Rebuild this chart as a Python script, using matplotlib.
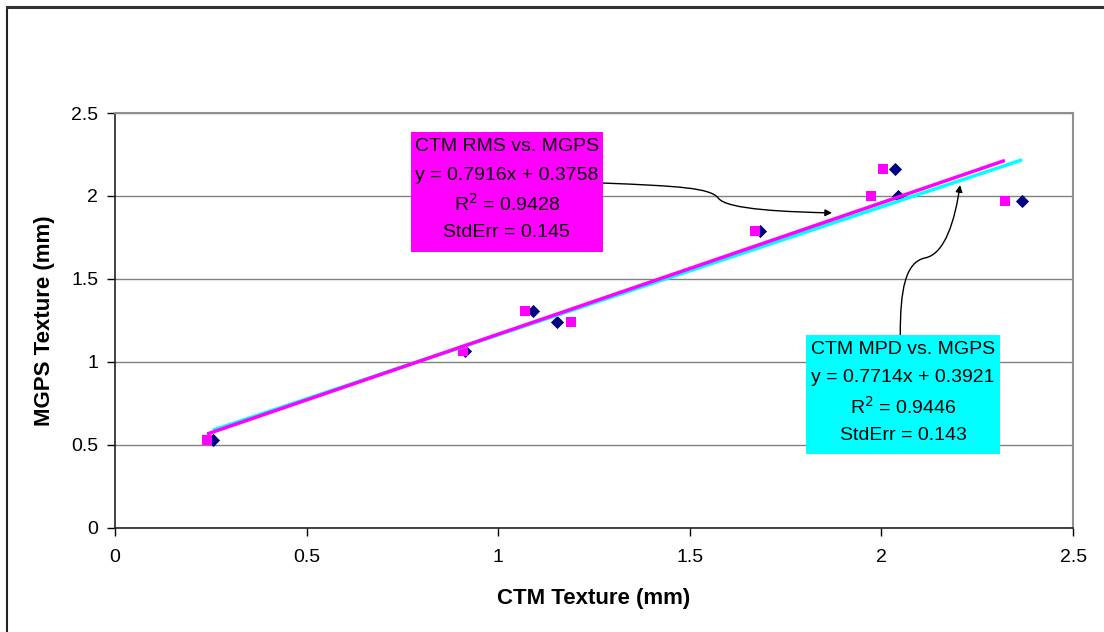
import matplotlib
matplotlib.use("Agg")
import matplotlib.pyplot as plt
import numpy as np
from matplotlib.path import Path
from matplotlib.patches import FancyArrowPatch, Rectangle
from matplotlib.lines import Line2D
from matplotlib.ticker import FuncFormatter

plt.rcParams['font.family'] = ['Liberation Sans', 'DejaVu Sans']

# measured texture values (mm)
mgps = [0.53, 1.065, 1.31, 1.24, 1.79, 2.16, 2.0, 1.97]
ctm_mpd = [0.255, 0.913, 1.090, 1.153, 1.684, 2.035, 2.044, 2.367]
ctm_rms = [0.240, 0.907, 1.069, 1.189, 1.671, 2.004, 1.973, 2.322]

# regression results shown in the boxes
mpd_fit = (0.7714, 0.3921, 0.9446, 0.143)
rms_fit = (0.7916, 0.3758, 0.9428, 0.145)

navy = '#000080'
pink = '#FF00FF'
cyan = '#00FFFF'

fig = plt.figure(figsize=(11.04, 6.32), dpi=100)
ax = fig.add_axes([0.1042, 0.1646, 0.8678, 0.6566])

# frame lines of the chart area (left and top only)
fig.add_artist(Line2D([0.006, 0.006], [0.0, 0.989], color='#222222', lw=1.5, transform=fig.transFigure))
fig.add_artist(Line2D([0.006, 1.0], [0.989, 0.989], color='#333333', lw=2.2, transform=fig.transFigure))

ax.scatter(ctm_mpd, mgps, marker='D', s=45, color=navy, zorder=3, linewidths=0)
ax.scatter(ctm_rms, mgps, marker='s', s=62, color=pink, zorder=4, linewidths=0)

xm = np.array([min(ctm_mpd), max(ctm_mpd)])
ax.plot(xm, mpd_fit[0] * xm + mpd_fit[1], color=cyan, lw=2.5, zorder=5, solid_capstyle='butt')
xr = np.array([min(ctm_rms), max(ctm_rms)])
ax.plot(xr, rms_fit[0] * xr + rms_fit[1], color=pink, lw=2.5, zorder=6, solid_capstyle='butt')

ax.set_xlim(0, 2.5)
ax.set_ylim(0, 2.5)
ax.set_xticks(np.arange(0, 2.51, 0.5))
ax.set_yticks(np.arange(0, 2.51, 0.5))
fmt = FuncFormatter(lambda v, p: '%g' % v)
ax.xaxis.set_major_formatter(fmt)
ax.yaxis.set_major_formatter(fmt)
ax.tick_params(direction='out', length=6, width=1, labelsize=14)
ax.tick_params(axis='x', pad=9)
ax.tick_params(axis='y', pad=6)
ax.grid(axis='y', color='#808080', lw=1)
ax.set_axisbelow(True)
for s in ['top', 'right']:
    ax.spines[s].set_color('#909090')
    ax.spines[s].set_linewidth(1.5)
for s in ['left', 'bottom']:
    ax.spines[s].set_color('#222222')
    ax.spines[s].set_linewidth(1.2)

ax.set_xlabel('CTM Texture (mm)', fontsize=16, fontweight='bold', labelpad=16)
ax.set_ylabel('MGPS Texture (mm)', fontsize=16, fontweight='bold', labelpad=12)


def fit_box(x0, y0, w, h, color, title, fit):
    ax.add_patch(Rectangle((x0, y0), w, h, transform=ax.transAxes, facecolor=color,
                           edgecolor='none', zorder=7))
    lines = [title,
             'y = %.4fx + %.4f' % (fit[0], fit[1]),
             'R$^2$ = %.4f' % fit[2],
             'StdErr = %.3f' % fit[3]]
    for i, t in enumerate(lines):
        ax.text(x0 + w / 2, y0 + h * (0.88 - i * 0.24), t, transform=ax.transAxes,
                ha='center', va='center', fontsize=14, zorder=8)


fit_box(0.309, 0.665, 0.200, 0.289, pink, 'CTM RMS vs. MGPS', rms_fit)
fit_box(0.721, 0.178, 0.203, 0.287, cyan, 'CTM MPD vs. MGPS', mpd_fit)

# curved leader arrows
p1 = Path([(1.273, 2.078), (1.474, 2.060), (1.553, 2.048), (1.574, 1.988),
           (1.595, 1.916), (1.762, 1.904), (1.871, 1.898)],
          [Path.MOVETO, Path.CURVE4, Path.CURVE4, Path.CURVE4,
           Path.CURVE4, Path.CURVE4, Path.CURVE4])
p2 = Path([(2.049, 1.163), (2.049, 1.434), (2.062, 1.602), (2.114, 1.627),
           (2.166, 1.651), (2.192, 1.855), (2.205, 2.066)],
          [Path.MOVETO, Path.CURVE4, Path.CURVE4, Path.CURVE4,
           Path.CURVE4, Path.CURVE4, Path.CURVE4])
for p in (p1, p2):
    ax.add_patch(FancyArrowPatch(path=p, arrowstyle='-|>', mutation_scale=10,
                                 color='black', lw=1.0, zorder=6.5))

fig.savefig('out.png', dpi=100)
